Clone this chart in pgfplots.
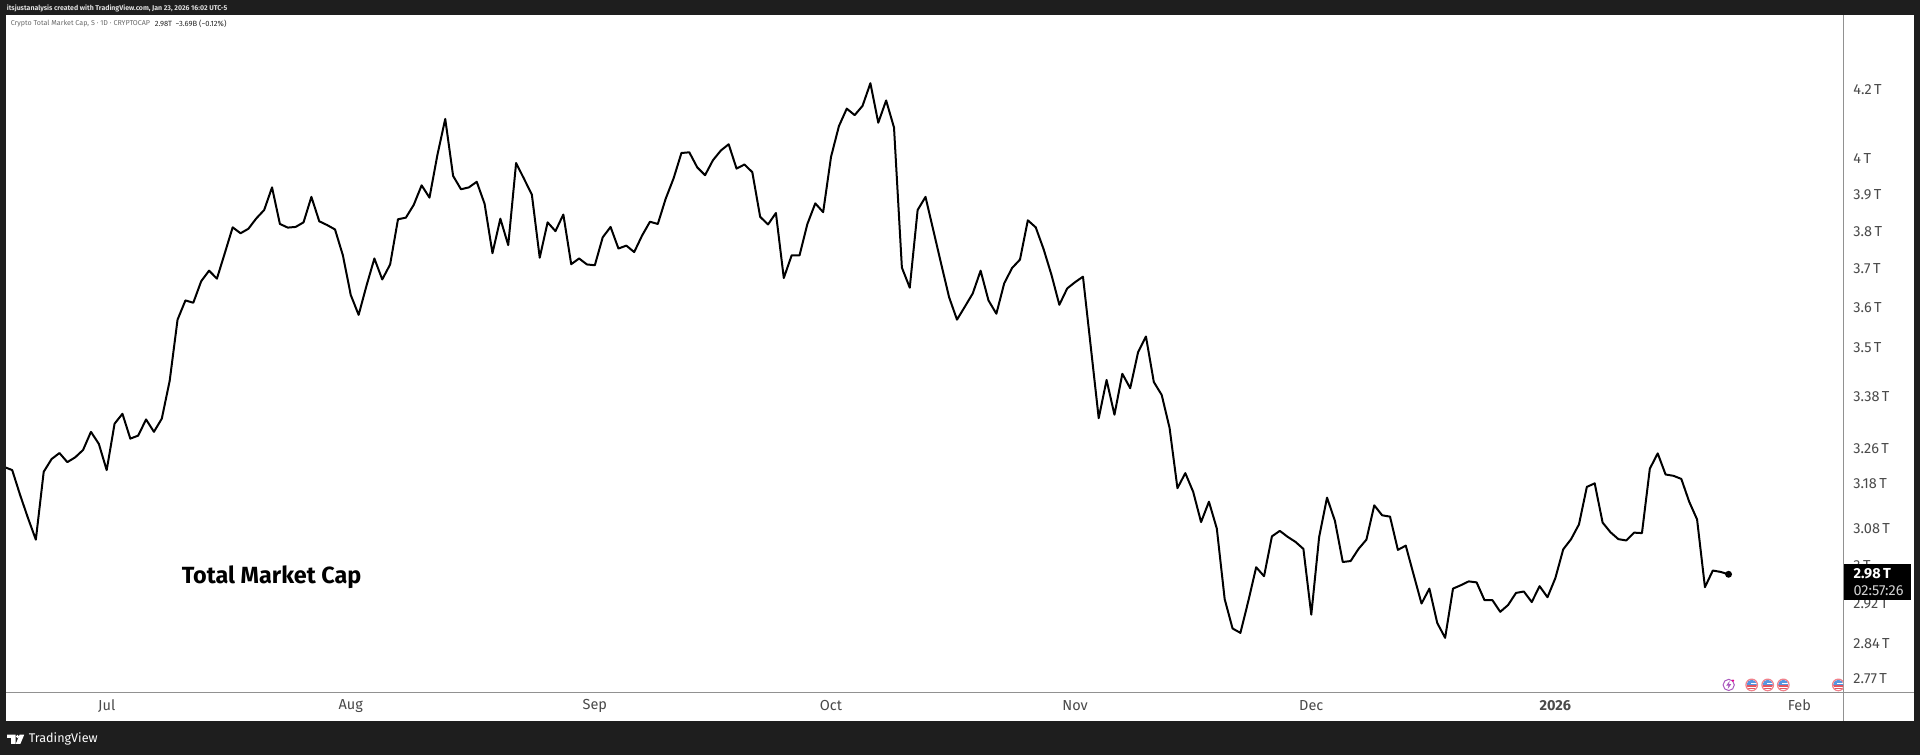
\documentclass[border=0pt]{standalone}
\usepackage{fontspec}
\setmainfont{Fira Sans}
\usepackage{pgfplots}
\pgfplotsset{compat=1.18}
\definecolor{tvdark}{RGB}{30,30,30}
\definecolor{tvsep}{RGB}{145,145,145}
\definecolor{tvtick}{RGB}{74,74,74}
\definecolor{tvlegend}{RGB}{105,105,105}
\definecolor{tvpink}{RGB}{240,130,140}
\definecolor{tvblue}{RGB}{85,150,225}
\definecolor{tvred}{RGB}{225,85,95}
\definecolor{tvpurple}{RGB}{170,90,190}
% one reference pixel is about 0.25pt here
\newcommand{\fs}[1]{\fontsize{#1}{#1}\selectfont}
\newcommand{\flagicon}[1]{%
  \begin{scope}[shift={(#1,70.7)}]
    \fill[white] (0,0) circle (6);
    \begin{scope}
      \clip (0,0) circle (5.2);
      \fill[tvblue] (-6,0) rectangle (6,6);
      \fill[white] (-1,0.5) rectangle (6,2.4);
      \fill[tvred] (-6,-0.4) rectangle (6,-1.6);
      \fill[tvred] (-6,-3) rectangle (6,-4.2);
    \end{scope}
    \draw[tvpink, line width=0.3pt] (0,0) circle (5.8);
  \end{scope}}
\begin{document}
\begin{tikzpicture}[x=0.25pt,y=0.2506pt]
\useasboundingbox (0,1.7) rectangle (1920,754);
\fill[tvdark] (0,0) rectangle (1920,754);
\fill[white] (6,35) rectangle (1914,739);
\begin{axis}[
    at={(1.5pt,15.79pt)}, anchor=south west,
    scale only axis,
    width=459.375pt, height=169.41pt,
    ymode=log,
    xmin=-12.79, xmax=220.6,
    ymin=2.7427, ymax=4.4276,
    axis x line=bottom, axis y line=right,
    axis line style={tvsep, -, line width=0.25pt},
    xtick={0,31,62,92,123,153,184,215},
    xticklabels={Jul,Aug,Sep,Oct,Nov,Dec,\textbf{2026},Feb},
    ytick={2.77,2.84,2.92,3,3.08,3.18,3.26,3.38,3.5,3.6,3.7,3.8,3.9,4,4.2},
    yticklabels={2.77\,T,2.84\,T,2.92\,T,3\,T,3.08\,T,3.18\,T,3.26\,T,3.38\,T,3.5\,T,3.6\,T,3.7\,T,3.8\,T,3.9\,T,4\,T,4.2\,T},
    minor y tick num=0,
    major tick length=0pt,
    xticklabel style={font=\fs{3.625}, text=tvtick, anchor=center, yshift=-3.25pt},
    yticklabel style={font=\fs{3.625}, text=tvtick, anchor=west, xshift=-1.05pt},
]
\addplot[black, line width=0.5pt, line join=round, mark=none] coordinates {
(-13,3.217) (-12,3.210) (-11,3.154) (-10,3.103) (-9,3.056) (-8,3.206) (-7,3.235) (-6,3.249) (-5,3.228) (-4,3.239)
(-3,3.256) (-2,3.298) (-1,3.270) (0,3.210) (1,3.317) (2,3.340) (3,3.282) (4,3.289) (5,3.327) (6,3.298)
(7,3.329) (8,3.419) (9,3.570) (10,3.619) (11,3.613) (12,3.668) (13,3.696) (14,3.675) (15,3.742) (16,3.811)
(17,3.795) (18,3.807) (19,3.835) (20,3.858) (21,3.920) (22,3.820) (23,3.810) (24,3.812) (25,3.824) (26,3.894)
(27,3.827) (28,3.817) (29,3.805) (30,3.736) (31,3.633) (32,3.582) (33,3.657) (34,3.728) (35,3.673) (36,3.712)
(37,3.833) (38,3.837) (39,3.872) (40,3.926) (41,3.892) (42,4.010) (43,4.114) (44,3.952) (45,3.915) (46,3.920)
(47,3.936) (48,3.875) (49,3.742) (50,3.834) (51,3.763) (52,3.988) (53,3.944) (54,3.900) (55,3.730) (56,3.824)
(57,3.801) (58,3.846) (59,3.713) (60,3.728) (61,3.712) (62,3.710) (63,3.784) (64,3.812) (65,3.754) (66,3.762)
(67,3.745) (68,3.789) (69,3.826) (70,3.820) (71,3.889) (72,3.945) (73,4.016) (74,4.018) (75,3.976) (76,3.954)
(77,3.996) (78,4.023) (79,4.041) (80,3.973) (81,3.984) (82,3.963) (83,3.839) (84,3.819) (85,3.850) (86,3.677)
(87,3.736) (88,3.736) (89,3.820) (90,3.876) (91,3.852) (92,4.005) (93,4.093) (94,4.144) (95,4.125) (96,4.152)
(97,4.219) (98,4.103) (99,4.168) (100,4.089) (101,3.704) (102,3.652) (103,3.858) (104,3.894) (105,3.802) (106,3.713)
(107,3.627) (108,3.570) (109,3.603) (110,3.637) (111,3.696) (112,3.619) (113,3.585) (114,3.663) (115,3.703) (116,3.725)
(117,3.830) (118,3.811) (119,3.753) (120,3.685) (121,3.608) (122,3.650) (123,3.666) (124,3.680) (125,3.501) (126,3.330)
(127,3.421) (128,3.338) (129,3.436) (130,3.401) (131,3.489) (132,3.528) (133,3.416) (134,3.385) (135,3.307) (136,3.169)
(137,3.203) (138,3.161) (139,3.094) (140,3.139) (141,3.080) (142,2.930) (143,2.870) (144,2.861) (145,2.926) (146,2.997)
(147,2.978) (148,3.063) (149,3.075) (150,3.062) (151,3.051) (152,3.036) (153,2.898) (154,3.062) (155,3.148) (156,3.097)
(157,3.008) (158,3.010) (159,3.036) (160,3.056) (161,3.131) (162,3.109) (163,3.106) (164,3.034) (165,3.043) (166,2.981)
(167,2.921) (168,2.952) (169,2.881) (170,2.851) (171,2.952) (172,2.959) (173,2.967) (174,2.965) (175,2.928) (176,2.928)
(177,2.904) (178,2.918) (179,2.943) (180,2.946) (181,2.924) (182,2.957) (183,2.934) (184,2.974) (185,3.035) (186,3.057)
(187,3.089) (188,3.172) (189,3.180) (190,3.093) (191,3.072) (192,3.057) (193,3.054) (194,3.071) (195,3.070) (196,3.213)
(197,3.248) (198,3.200) (199,3.197) (200,3.190) (201,3.139) (202,3.100) (203,2.955) (204,2.990) (205,2.987) (206,2.982)
};
\addplot[only marks, mark=*, mark size=0.65pt, black] coordinates {(206,2.982)};
\end{axis}
% separator carries on under the price scale
\draw[tvsep, line width=0.25pt] (1843.5,63) -- (1914,63);
\draw[tvsep, line width=0.25pt] (1843.5,35) -- (1843.5,63);
% header and legend
\node[anchor=west, inner sep=0, text=white!88!black, font=\fs{1.74}\bfseries] at (6,746) {itsjustanalysis created with TradingView.com, Jan 23, 2026 16:02 UTC-5};
\node[anchor=west, inner sep=0, text=tvlegend, font=\fs{1.78}] at (10,730) {Crypto Total Market Cap, S · 1D · CRYPTOCAP};
\node[anchor=west, inner sep=0, text=black!85, font=\fs{1.9}] at (154,730) {2.98T\hspace{0.9pt}−3.69B (−0.12\%)};
% chart note
\node[anchor=west, inner sep=0, font=\fs{5.85}\bfseries] at (181,178) {Total Market Cap};
% last price tag
\fill[black] (1843.7,155.3) rectangle (1911,191.3);
\node[anchor=west, inner sep=0, text=white, font=\fs{3.625}\bfseries] at (1852.7,181.3) {2.98\,T};
\node[anchor=west, inner sep=0, text=white!82!black, font=\fs{3.625}] at (1852.7,165) {02:57:26};
% event icons
\draw[tvpurple, line width=0.25pt] (1728.7,70.7) circle (5.6);
\fill[tvpurple] (1729.6,74.7) -- (1726.2,70) -- (1728.4,70) -- (1727.8,66.7) -- (1731.2,71.4) -- (1729,71.4) -- cycle;
\fill[magenta] (1733,75) circle (1.3);
\flagicon{1751.7}
\flagicon{1767.7}
\flagicon{1783.3}
\begin{scope}
  \clip (1700,60) rectangle (1843,80);
  \flagicon{1838.3}
\end{scope}
% footer logo
\fill[white] (7,21) rectangle (15.5,18) (11,18) rectangle (15.5,12);
\fill[white] (17.6,19.2) circle (1.7);
\fill[white] (19.6,21) -- (24.2,21) -- (20.4,12) -- (15.8,12) -- cycle;
\node[anchor=west, inner sep=0, text=white, font=\fs{3.15}] at (28,17) {TradingView};
\end{tikzpicture}
\end{document}
